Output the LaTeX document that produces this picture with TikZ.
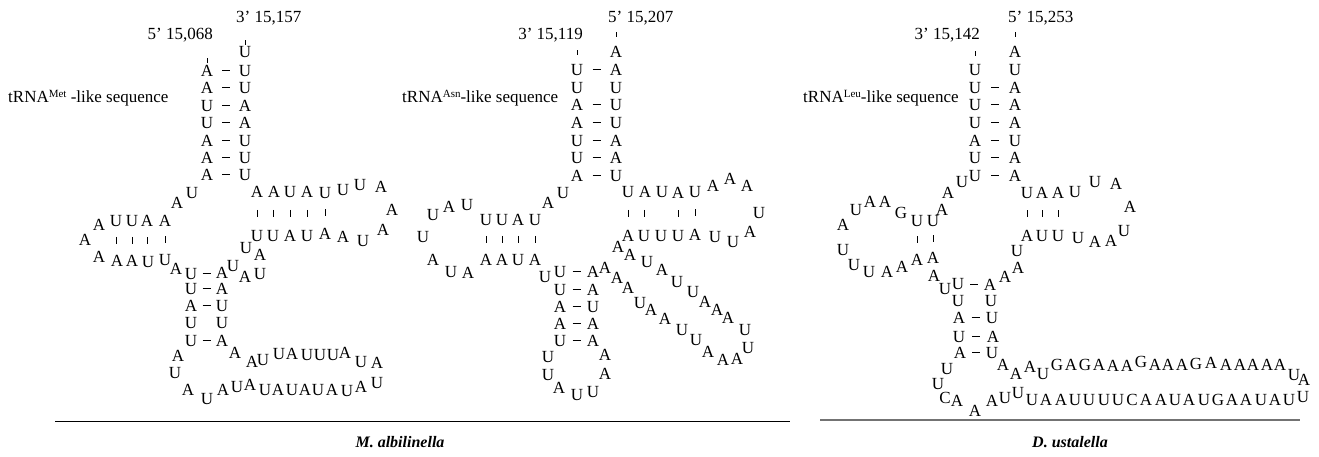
\documentclass[tikz,border=0pt]{standalone}
\usepackage{fontspec}
\setmainfont{Liberation Serif}
\usetikzlibrary{calc}
\newcommand\ntrow[2]{\foreach \px/\py/\nuc [count=\ni] in {#2} \node[nt] (#1\ni) at (\px,\py) {\nuc};}
\newcommand\supx[1]{{\fontsize{11}{11}\selectfont\raisebox{4.5pt}{#1}}}
\begin{document}
\begin{tikzpicture}[x=1pt,y=-1pt,
  nt/.style={anchor=base,inner sep=0pt,font=\fontsize{17}{17}\selectfont},
  lab/.style={inner sep=0pt,font=\fontsize{17}{17}\selectfont},
  bp/.style={line width=0.8pt},
  tk/.style={line width=0.8pt},
  sp/.style={inner sep=0pt,anchor=base,font=\bfseries\itshape\fontsize{16}{16}\selectfont}]
\useasboundingbox (0,0) rectangle (1319,456);

% ---------------- structure 1 : tRNA-Met ----------------
\node[lab,anchor=base east] (a5) at (213,39) {5’ 15,068};
\node[lab,anchor=base west] (a3) at (236,22) {3’ 15,157};
\node[lab,anchor=base west] (aname) at (8,102) {tRNA\supx{Met} -like sequence};
\node[nt] (atop) at (245,57) {U};
\ntrow{asl}{207/76/A,207/93/A,207/111/U,207/128/U,207/146/A,207/163/A,207/180/A}
\ntrow{asr}{245/76/U,245/93/U,245/111/A,245/128/A,245/146/U,245/163/U,245/180/U}
\foreach \i in {1,...,7} \draw[bp] ($(asl\i)!.5!(asr\i)$) +(-4,0) -- +(4,0);
\draw[tk] (atop.north) ++(0,-1) -- ++(0,-5);
\draw[tk] (asl1.north) ++(0,-1.5) -- ++(0,-5);
\ntrow{aj}{177/208/A,192/198/U}
\ntrow{alt}{116/226/U,132/226/U,147/226/A,165/226/A}
\ntrow{alb}{117/266/A,132/266/A,148/267/U,165/265/U}
\ntrow{all}{99/230/A,85/245/A,99/262/A}
\foreach \i in {1,...,4} \draw[tk] ($(alt\i)!.5!(alb\i)$) +(0,-3.5) -- +(0,3.5);
\ntrow{ax}{176/274/A,233/271/U,245/282/A,260/279/U,246/253/U,260/260/A}
\ntrow{adl}{191/279/U,191/294/U,191/311/A,191/328/U,191/346/U}
\ntrow{adr}{222/278/A,222/294/A,222/311/U,222/328/U,222/346/A}
\foreach \i in {1,2,3,5} \draw[bp] ($(adl\i)!.5!(adr\i)$) +(-4,0) -- +(4,0);
\ntrow{abl}{178/361/A,175/378/U,188/395/A,207/404/U,223/395/A,237/392/U,250/390/A,265/395/U,278/395/A,292/395/U,305/395/A,318/395/U,332/395/A,347/396/U,361/392/A,377/388/U}
\ntrow{abt}{235/358/A,252/367/A,263/365/U,279/359/U,292/359/A,307/360/U,320/360/U,333/360/U,345/358/A,361/367/U,377/368/A}
\ntrow{art}{257/197/A,274/197/A,290/197/U,307/197/A,325/198/U,343/195/U,360/190/U,381/192/A}
\ntrow{arb}{257/241/U,273/241/U,290/241/A,307/241/U,325/239/A,343/242/A,363/246/U,383/235/A}
\node[nt] (arA) at (392,215) {A};
\foreach \i in {1,...,5} \draw[tk] ($(art\i)!.5!(arb\i)$) +(0,-3.5) -- +(0,3.5);

% ---------------- structure 2 : tRNA-Asn ----------------
\node[lab,anchor=base east] (b3) at (583,39) {3’ 15,119};
\node[lab,anchor=base west] (b5) at (608,22) {5’ 15,207};
\node[lab,anchor=base west] (bname) at (402,102) {tRNA\supx{Asn}-like sequence};
\node[nt] (btop) at (616,57) {A};
\ntrow{bsl}{577/75/U,577/93/U,577/110/A,577/128/A,577/146/U,577/163/U,577/181/A}
\ntrow{bsr}{616/75/A,616/93/U,616/110/U,616/128/U,616/146/A,616/163/A,616/181/U}
\foreach \i in {1,3,4,5,6,7} \draw[bp] ($(bsl\i)!.5!(bsr\i)$) +(-4,0) -- +(4,0);
\draw[tk] (btop.north) ++(0,-9) -- ++(0,-5);
\draw[tk] (bsl1.north) ++(0,-9) -- ++(0,-5);
\ntrow{bj}{548/208/A,563/198/U}
\ntrow{blt}{486/225/U,502/225/U,518/225/A,535/225/U}
\ntrow{blb}{486/265/A,502/265/A,518/265/U,535/265/A}
\ntrow{bll}{433/220/U,449/212/A,467/210/U,423/242/U,433/265/A,451/277/U,468/278/A}
\foreach \i in {1,...,4} \draw[tk] ($(blt\i)!.5!(blb\i)$) +(0,-3.5) -- +(0,3.5);
\ntrow{bdl}{560/277/U,560/295/U,560/312/A,560/329/A,560/346/U}
\ntrow{bdr}{593/277/A,593/295/A,593/312/U,593/329/A,593/346/A}
\foreach \i in {1,...,5} \draw[bp] ($(bdl\i)!.5!(bdr\i)$) +(-4,0) -- +(4,0);
\ntrow{bx}{545/282/U,605/273/A}
\ntrow{bbl}{548/362/U,548/380/U,559/393/A,577/400/U,593/397/U,605/379/A,605/360/A}
\ntrow{brt}{628/197/U,645/197/A,662/197/U,678/198/A,695/197/U,713/191/A,730/184/A,747/191/A}
\ntrow{brb}{628/241/A,644/241/U,661/241/U,678/241/U,695/240/A,715/242/U,733/247/U,750/237/A}
\node[nt] (brU) at (759,218) {U};
\foreach \i in {1,2,4,5} \draw[tk] ($(brt\i)!.5!(brb\i)$) +(0,-3.5) -- +(0,3.5);
\ntrow{bdg}{618/252/A,630/260/A,647/267/U,662/275/A,677/287/U,693/297/U,705/307/A,717/315/A,728/323/A,745/335/U,748/353/U,737/364/A,723/365/A,708/357/A,696/345/U,682/335/U,665/324/A,651/315/A,640/308/U,628/293/A,617/283/A}

% ---------------- structure 3 : tRNA-Leu ----------------
\node[lab,anchor=base east] (c3) at (980,39) {3’ 15,142};
\node[lab,anchor=base west] (c5) at (1008,22) {5’ 15,253};
\node[lab,anchor=base west] (cname) at (803,102) {tRNA\supx{Leu}-like sequence};
\node[nt] (ctop) at (1015,57) {A};
\ntrow{csl}{975/75/U,975/93/U,975/110/U,975/128/U,975/146/A,975/163/U,975/181/U}
\ntrow{csr}{1015/75/U,1015/93/A,1015/110/A,1015/128/A,1015/146/U,1015/163/A,1015/181/A}
\foreach \i in {2,...,7} \draw[bp] ($(csl\i)!.5!(csr\i)$) +(-4,0) -- +(4,0);
\draw[tk] (ctop.north) ++(0,-9) -- ++(0,-5);
\draw[tk] (csl1.north) ++(0,-8) -- ++(0,-5);
\ntrow{cj}{948/198/A,962/187/U,942/215/A}
\ntrow{clt}{917/226/U,933/226/U}
\ntrow{clb}{917/265/A,933/263/A}
\ntrow{cll}{901/218/G,885/207/A,870/207/A,856/215/U,843/230/A,843/255/U,854/270/U,869/277/U,887/277/A,902/272/A}
\foreach \i in {1,2} \draw[tk] ($(clt\i)!.5!(clb\i)$) +(0,-3.5) -- +(0,3.5);
\ntrow{cx}{934/281/A,945/294/U,1005/282/A,1018/273/A,1017/256/U}
\ntrow{cdl}{958/289/U,958/306/U,959/323/A,959/342/U,960/358/A}
\ntrow{cdr}{990/290/A,991/306/U,992/323/U,993/342/A,992/358/U}
\foreach \i in {1,3,4,5} \draw[bp] ($(cdl\i)!.5!(cdr\i)$) +(-4,0) -- +(4,0);
\ntrow{crt}{1027/198/U,1042/198/A,1058/198/A,1075/197/U,1095/187/U,1116/189/A}
\ntrow{crb}{1027/241/A,1042/241/U,1058/241/U,1078/243/U,1095/247/A,1111/246/A,1124/236/U}
\node[nt] (crA) at (1130,212) {A};
\foreach \i in {1,2,3} \draw[tk] ($(crt\i)!.5!(crb\i)$) +(0,-3.5) -- +(0,3.5);
\ntrow{ctt}{1003/370/A,1016/379/A,1030/372/A,1043/379/U,1057/370/G,1071/370/A,1085/370/G,1099/370/A,1113/371/A,1127/371/A,1141/367/G,1155/370/A,1168/370/A,1182/370/A,1196/369/G,1211/368/A,1226/370/A,1240/370/A,1253/370/A,1267/370/A,1280/370/A,1294/380/U,1304/385/A}
\ntrow{ctb}{947/374/U,938/389/U,945/403/C,957/406/A,975/416/A,992/406/A,1005/403/U,1018/398/U,1032/405/U,1046/405/A,1061/405/A,1075/405/U,1089/405/U,1104/405/U,1118/405/U,1132/405/C,1146/405/A,1161/405/A,1175/405/U,1189/405/A,1204/405/U,1218/405/G,1232/405/A,1246/405/A,1261/405/U,1275/405/A,1289/405/U,1303/402/U}

% ---------------- rules and species names ----------------
\draw[line width=1pt] (55,421.5) -- (790,421.5);
\draw[line width=2pt,black!55] (820,419.5) -- (1300,419.5);
\node[sp] (mname) at (400,447) {M. albilinella};
\node[sp] (dname) at (1070,447) {D. ustalella};
\end{tikzpicture}
\end{document}
